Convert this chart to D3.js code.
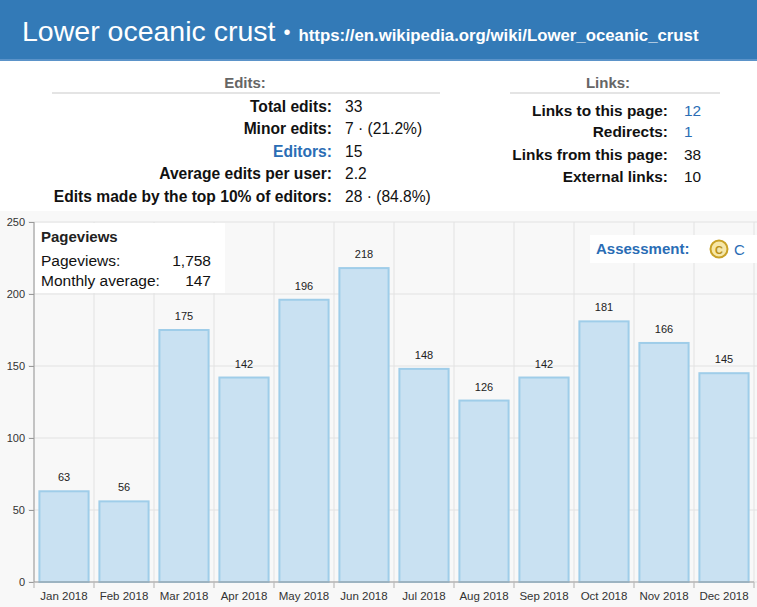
<!DOCTYPE html>
<html><head><meta charset="utf-8">
<script src="https://cdn.jsdelivr.net/npm/d3@7"></script>
<style>
html,body{margin:0;padding:0;background:#fff;}
svg{display:block;font-family:"Liberation Sans",Arial,Helvetica,sans-serif;}
</style></head>
<body>
<svg id="c" width="757" height="607"></svg>
<script>
const months = ["Jan 2018","Feb 2018","Mar 2018","Apr 2018","May 2018","Jun 2018","Jul 2018","Aug 2018","Sep 2018","Oct 2018","Nov 2018","Dec 2018"];
const pageviews = [63,56,175,142,196,218,148,126,142,181,166,145];
const yTicks = [0,50,100,150,200,250];
const editLabels = ["Total edits:","Minor edits:","Editors:","Average edits per user:","Edits made by the top 10% of editors:"];
const editValues = ["33","7 · (21.2%)","15","2.2","28 · (84.8%)"];
const linkLabels = ["Links to this page:","Redirects:","Links from this page:","External links:"];
const linkValues = ["12","1","38","10"];
const totalViews = "1,758";
const monthlyAvg = "147";

const svg = d3.select("#c");
const W = 757, H = 607;

// header
svg.append("rect").attr("x",0).attr("y",0).attr("width",W).attr("height",60).attr("fill","#337ab7");
svg.append("rect").attr("x",0).attr("y",59).attr("width",W).attr("height",2).attr("fill","#5b93c9");
const title = svg.append("text").attr("x",22).attr("y",41).attr("fill","#fff");
title.append("tspan").attr("font-size",28.5).text("Lower oceanic crust");
title.append("tspan").attr("font-size",20).attr("dx",8).attr("dy",-2).text("•");
title.append("tspan").attr("font-size",16.8).attr("font-weight","bold").attr("dx",8).attr("dy",2).text("https://en.wikipedia.org/wiki/Lower_oceanic_crust");

// edits section
svg.append("text").attr("x",245).attr("y",88).attr("text-anchor","middle").attr("font-size",15).attr("font-weight","bold").attr("fill","#666").text("Edits:");
svg.append("line").attr("x1",52).attr("x2",440).attr("y1",93).attr("y2",93).attr("stroke","#e4e4e4").attr("stroke-width",2);
const eY = [112,134,157,179,202];
editLabels.forEach((l,i)=>{
  svg.append("text").attr("x",332).attr("y",eY[i]).attr("text-anchor","end").attr("font-size",15.6).attr("font-weight","bold")
    .attr("fill", i===2 ? "#2a6db5" : "#111").text(l);
  svg.append("text").attr("x",345).attr("y",eY[i]).attr("font-size",15.6).attr("fill","#111").text(editValues[i]);
});

svg.append("text").attr("x",608).attr("y",88).attr("text-anchor","middle").attr("font-size",15).attr("font-weight","bold").attr("fill","#666").text("Links:");
svg.append("line").attr("x1",510).attr("x2",720).attr("y1",93).attr("y2",93).attr("stroke","#e4e4e4").attr("stroke-width",2);
const lY = [116,137,160,182];
linkLabels.forEach((l,i)=>{
  svg.append("text").attr("x",668).attr("y",lY[i]).attr("text-anchor","end").attr("font-size",15.4).attr("font-weight","bold").attr("fill","#111").text(l);
  svg.append("text").attr("x",684).attr("y",lY[i]).attr("font-size",15.4).attr("fill", i<2 ? "#2a6db5" : "#111").text(linkValues[i]);
});

// chart
svg.append("rect").attr("x",0).attr("y",211).attr("width",W).attr("height",H-211).attr("fill","#f8f8f8");
const x = d3.scaleBand().domain(months).range([34,754]).paddingInner(0.18).paddingOuter(0.09);
const y = d3.scaleLinear().domain([0,250]).range([582,222]);
const step = x.step();

const g = svg.append("g");
g.selectAll(".hg").data(yTicks).join("line")
  .attr("x1",28).attr("x2",W).attr("y1",d=>y(d)).attr("y2",d=>y(d))
  .attr("stroke","#e2e2e2").attr("stroke-width",1);
const edges = months.map((m)=> x(m) - x.paddingOuter()*step).concat([754]);
g.selectAll(".vg").data(edges).join("line")
  .attr("x1",d=>d).attr("x2",d=>d).attr("y1",222).attr("y2",588)
  .attr("stroke","#e2e2e2").attr("stroke-width",1);

// legend box
svg.append("rect").attr("x",35).attr("y",223).attr("width",190).attr("height",70).attr("fill","#fff");
svg.append("text").attr("x",41).attr("y",242).attr("font-size",15).attr("font-weight","bold").attr("fill","#222").text("Pageviews");
svg.append("text").attr("x",41).attr("y",266).attr("font-size",15.5).attr("fill","#111").text("Pageviews:");
svg.append("text").attr("x",211).attr("y",266).attr("text-anchor","end").attr("font-size",15.5).attr("fill","#111").text(totalViews);
svg.append("text").attr("x",41).attr("y",286).attr("font-size",15.5).attr("fill","#111").text("Monthly average:");
svg.append("text").attr("x",211).attr("y",286).attr("text-anchor","end").attr("font-size",15.5).attr("fill","#111").text(monthlyAvg);

// assessment box
svg.append("rect").attr("x",590).attr("y",235).attr("width",167).attr("height",28).attr("fill","#fff");
svg.append("text").attr("x",596).attr("y",254).attr("font-size",15).attr("font-weight","bold").attr("fill","#2a6db5").text("Assessment:");
svg.append("circle").attr("cx",719).attr("cy",249).attr("r",8.5).attr("fill","#f6e7a8").attr("stroke","#c9a227").attr("stroke-width",2);
svg.append("text").attr("x",719).attr("y",253.5).attr("text-anchor","middle").attr("font-size",11).attr("font-weight","bold").attr("fill","#b8901a").text("C");
svg.append("text").attr("x",734).attr("y",255).attr("font-size",15).attr("fill","#2a6db5").text("C");

// bars
g.selectAll(".bar").data(pageviews).join("rect")
  .attr("x",(d,i)=>x(months[i])).attr("width",x.bandwidth())
  .attr("y",d=>y(d)).attr("height",d=>y(0)-y(d))
  .attr("fill","#c9e1f2").attr("stroke","#9fcde9").attr("stroke-width",2);
g.selectAll(".lbl").data(pageviews).join("text")
  .attr("x",(d,i)=>x(months[i])+x.bandwidth()/2).attr("y",d=>y(d)-10)
  .attr("text-anchor","middle").attr("font-size",11).attr("fill","#222").text(d=>d);

// axes
const yAxis = d3.axisLeft(y).tickValues(yTicks).tickSize(5).tickPadding(4);
const ya = svg.append("g").attr("transform","translate(34,0)").call(yAxis);
ya.select(".domain").attr("stroke","#999").attr("d","M0,222V582");
ya.selectAll(".tick line").attr("stroke","#999");
ya.selectAll("text").attr("font-size",11).attr("fill","#333").attr("font-family","Liberation Sans, Arial, sans-serif");

const xAxis = d3.axisBottom(x).tickSize(0).tickPadding(10);
const xa = svg.append("g").attr("transform","translate(0,582)").call(xAxis);
xa.select(".domain").attr("stroke","#999").attr("d","M34,0H754");
xa.selectAll("text").attr("font-size",11.5).attr("fill","#333").attr("font-family","Liberation Sans, Arial, sans-serif");
xa.selectAll(".edge").data(edges).join("line").attr("class","edge")
  .attr("x1",d=>d).attr("x2",d=>d).attr("y1",0).attr("y2",6).attr("stroke","#bbb");
</script>
</body></html>
